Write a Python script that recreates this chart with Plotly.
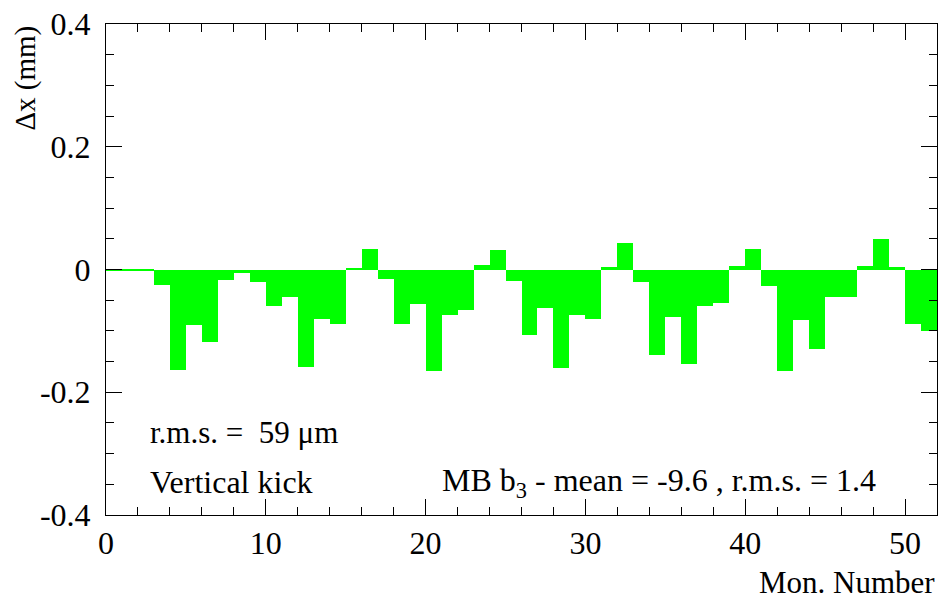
import plotly.graph_objects as go

monitor = list(range(52))
dx_mm = [-0.001, -0.001, -0.003, -0.026, -0.164, -0.091, -0.118, -0.017, -0.006, -0.020,
         -0.060, -0.044, -0.159, -0.081, -0.089, 0.001, 0.033, -0.015, -0.088, -0.056,
         -0.165, -0.074, -0.066, 0.008, 0.031, -0.019, -0.106, -0.062, -0.161, -0.074,
         -0.081, 0.004, 0.044, -0.020, -0.140, -0.077, -0.154, -0.059, -0.055, 0.006,
         0.034, -0.027, -0.166, -0.082, -0.130, -0.045, -0.045, 0.006, 0.050, 0.004,
         -0.088, -0.101]
x_ticks = [0, 10, 20, 30, 40, 50]
y_ticks = [-0.4, -0.2, 0, 0.2, 0.4]
y_tick_labels = ["-0.4", "-0.2", "0", "0.2", "0.4"]

FONT = "Liberation Serif, Times New Roman, serif"

fig = go.Figure()
fig.add_trace(go.Bar(
    x=[m + 0.5 for m in monitor], y=dx_mm, width=1.0,
    marker=dict(color="#00ff00", line=dict(width=0)),
    showlegend=False,
))

fig.update_layout(
    width=944, height=603,
    margin=dict(l=106, r=6, t=20, b=88),
    plot_bgcolor="white", paper_bgcolor="white",
    font=dict(family=FONT, size=30, color="black"),
    bargap=0,
    xaxis=dict(range=[0, 52], tickvals=x_ticks, ticks="inside", ticklen=16,
               tickcolor="black", showline=True, linecolor="black", linewidth=1,
               mirror="ticks", showgrid=False, zeroline=False,
               minor=dict(dtick=2, ticks="inside", ticklen=8, tickcolor="black", showgrid=False),
               tickfont=dict(family=FONT, size=32, color="black")),
    yaxis=dict(range=[-0.4, 0.4], tickvals=y_ticks, ticktext=y_tick_labels, ticks="inside",
               ticklen=16, tickcolor="black", showline=True, linecolor="black", linewidth=1,
               mirror="ticks", showgrid=False, zeroline=False, ticklabelstandoff=8,
               minor=dict(dtick=0.05, ticks="inside", ticklen=8, tickcolor="black", showgrid=False),
               tickfont=dict(family=FONT, size=32, color="black")),
    annotations=[
        dict(text="Δx (mm)", textangle=-90, xref="paper", yref="paper", x=-0.0974, y=1.0,
             xanchor="center", yanchor="top", showarrow=False,
             font=dict(family=FONT, size=29, color="black")),
        dict(text="Mon. Number", xref="paper", yref="paper", x=1.0, y=-0.137,
             xanchor="right", yanchor="middle", showarrow=False,
             font=dict(family=FONT, size=31, color="black")),
        dict(text="r.m.s. =  59 μm", xref="x", yref="y", x=2.6, y=-0.266,
             xanchor="left", yanchor="middle", showarrow=False,
             font=dict(family=FONT, size=31, color="black")),
        dict(text="Vertical kick", xref="x", yref="y", x=2.6, y=-0.347,
             xanchor="left", yanchor="middle", showarrow=False,
             font=dict(family=FONT, size=32, color="black")),
        dict(text="MB b<sub>3</sub> - mean = -9.6 , r.m.s. = 1.4", xref="x", yref="y", x=20.9, y=-0.347,
             xanchor="left", yanchor="middle", showarrow=False,
             font=dict(family=FONT, size=32, color="black")),
    ],
)

fig.write_html("out.html")
